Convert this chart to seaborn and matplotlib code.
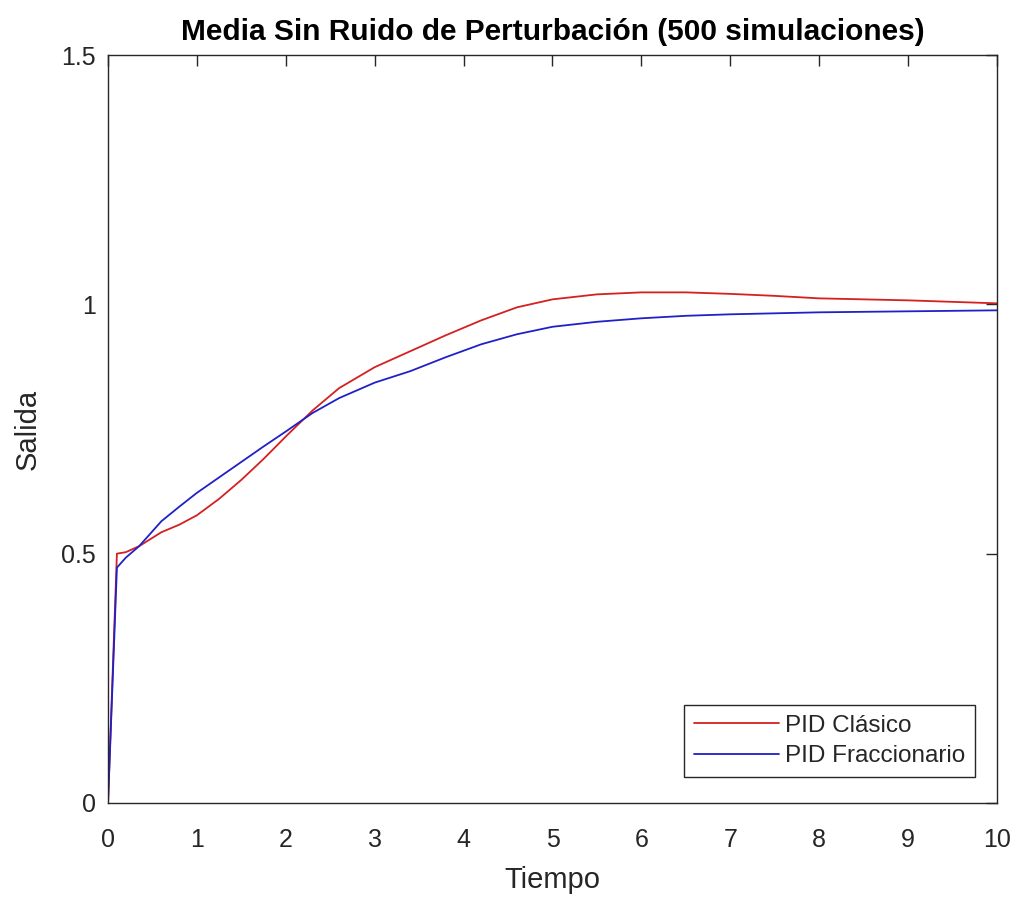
import numpy as np
import pandas as pd
import matplotlib
matplotlib.use("Agg")
import matplotlib.pyplot as plt
import seaborn as sns

# Data
tiempo = [0.0, 0.1, 0.2, 0.35, 0.6, 0.8, 1.0, 1.25, 1.5, 1.75, 2.0, 2.3, 2.6, 3.0,
          3.4, 3.8, 4.2, 4.6, 5.0, 5.5, 6.0, 6.5, 7.0, 7.5, 8.0, 8.5, 9.0, 9.5, 10.0]
pid_clasico = [0.0, 0.500, 0.503, 0.515, 0.543, 0.558, 0.577, 0.610, 0.648, 0.690, 0.735,
               0.787, 0.832, 0.874, 0.906, 0.938, 0.968, 0.994, 1.010, 1.020, 1.024,
               1.024, 1.021, 1.017, 1.012, 1.010, 1.008, 1.005, 1.002]
pid_fraccionario = [0.0, 0.472, 0.492, 0.515, 0.565, 0.594, 0.622, 0.653, 0.684, 0.715,
                    0.745, 0.782, 0.812, 0.843, 0.866, 0.894, 0.920, 0.940, 0.955, 0.965,
                    0.972, 0.977, 0.980, 0.982, 0.984, 0.985, 0.986, 0.987, 0.988]
series_names = ["PID Clásico", "PID Fraccionario"]
titulo = "Media Sin Ruido de Perturbación (500 simulaciones)"

df = pd.concat([
    pd.DataFrame({"Tiempo": tiempo, "Salida": pid_clasico, "serie": series_names[0]}),
    pd.DataFrame({"Tiempo": tiempo, "Salida": pid_fraccionario, "serie": series_names[1]}),
])

sns.set_theme(style="white")
plt.rcParams["font.family"] = ["Liberation Sans", "DejaVu Sans"]

fig = plt.figure(figsize=(10.22, 8.99), dpi=100)
ax = fig.add_axes([0.1057, 0.1068, 0.8698, 0.8320])

palette = {series_names[0]: "#d42020", series_names[1]: "#2020c8"}
sns.lineplot(data=df, x="Tiempo", y="Salida", hue="serie", palette=palette,
             linewidth=1.3, ax=ax, sort=False)

ax.set_xlim(0, 10)
ax.set_ylim(0, 1.5)
ax.set_xticks(range(0, 11))
ax.set_yticks([0, 0.5, 1, 1.5])
ax.set_yticklabels(["0", "0.5", "1", "1.5"])
ax.tick_params(direction="in", length=8, width=1, top=True, right=True,
               labelsize=18, colors="#262626")
ax.tick_params(axis="x", pad=18)
ax.tick_params(axis="y", pad=9)
for s in ax.spines.values():
    s.set_color("#262626")
    s.set_linewidth(1.0)
    s.set_visible(True)

ax.set_xlabel("Tiempo", fontsize=21, color="#262626", labelpad=10)
ax.set_ylabel("Salida", fontsize=21, color="#262626", labelpad=14)
ax.set_title(titulo, fontsize=21.5, fontweight="bold", color="black", pad=11)

leg = ax.legend(loc="lower right", fontsize=17.5, frameon=True, fancybox=False,
                edgecolor="#262626", framealpha=1, borderpad=0.4, handlelength=3.5,
                handletextpad=0.25, labelspacing=0.35, borderaxespad=0,
                bbox_to_anchor=(0.975, 0.0348))
leg.get_frame().set_linewidth(1.0)

fig.savefig("out.png", dpi=100)
